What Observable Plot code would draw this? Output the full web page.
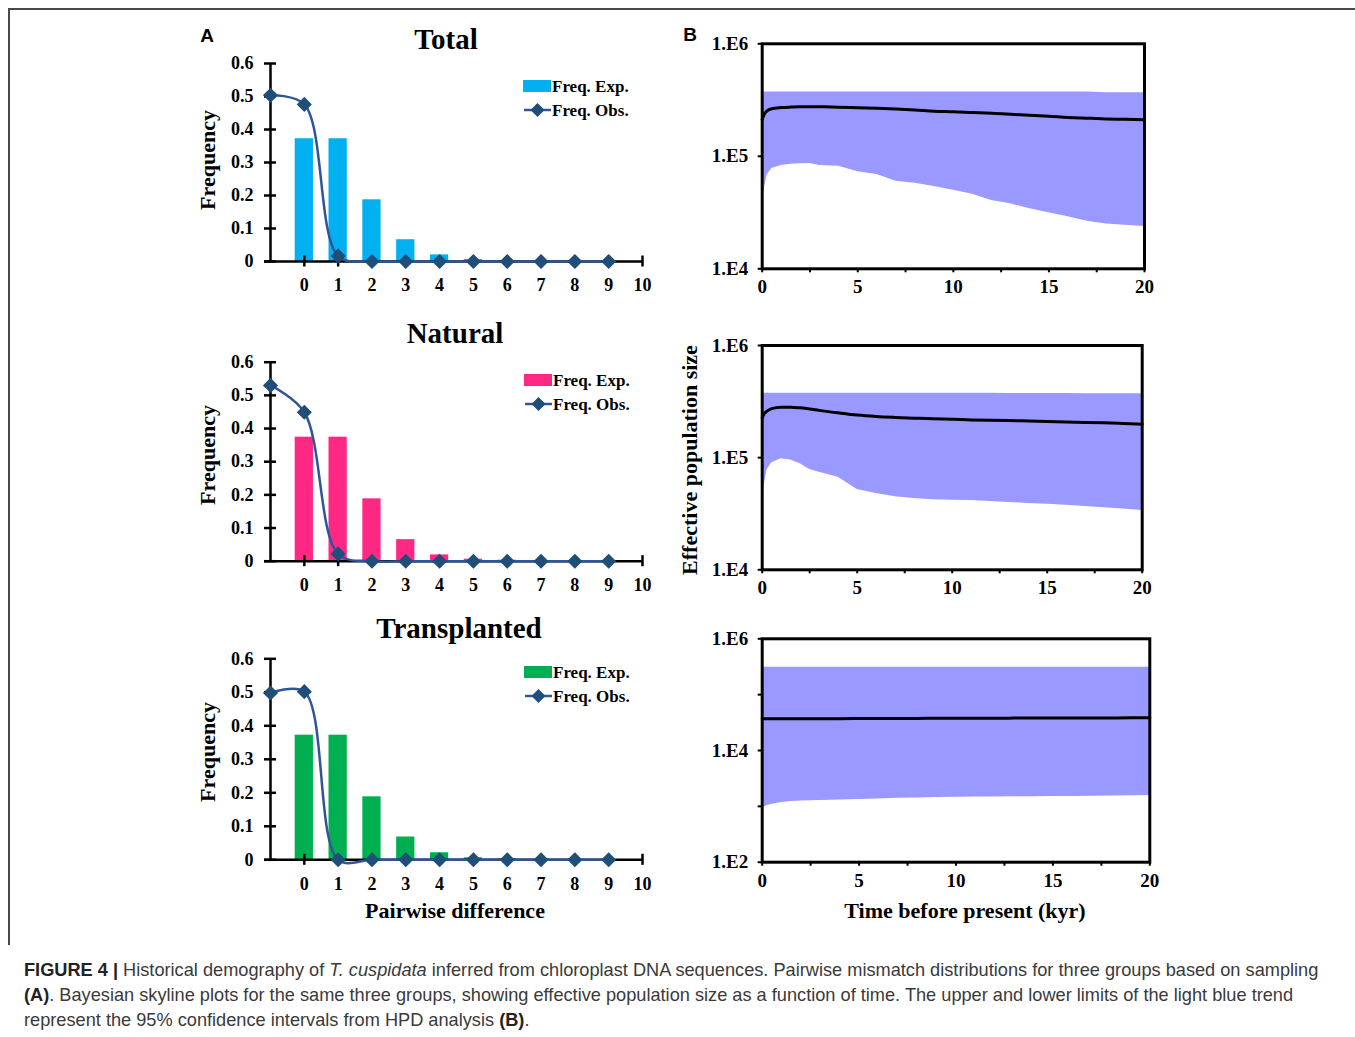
<!DOCTYPE html>
<html><head><meta charset="utf-8">
<script src="https://cdn.jsdelivr.net/npm/d3@7"></script>
<script src="https://cdn.jsdelivr.net/npm/@observablehq/plot@0.6"></script>
<style>
html,body{margin:0;padding:0;background:#fff;}
#fig{position:relative;width:1355px;height:1037px;overflow:hidden;background:#fff;}
.lbl{position:absolute;transform:translate(-50%,-50%);white-space:nowrap;font-family:"Liberation Serif",serif;font-weight:bold;color:#000;line-height:1;}
#border{position:absolute;left:8px;top:8px;width:1360px;height:935px;border-top:2px solid #4a4a4a;border-left:2px solid #4a4a4a;}
#cap{position:absolute;left:24px;top:958px;font-family:"Liberation Sans",Arial,sans-serif;font-size:18.2px;line-height:25px;color:#3a3a3a;white-space:nowrap;}
#cap b{color:#222;}
</style></head><body><div id="fig"><div id="border"></div></div>
<script>
// ---------- Panel A: pairwise mismatch distributions ----------
const groups = ["Total", "Natural", "Transplanted"];
const expCats = [0, 1, 2, 3, 4, 5, 6, 7, 8, 9];
const obsCats = [-1, 0, 1, 2, 3, 4, 5, 6, 7, 8, 9];
const xTicksA = [0, 1, 2, 3, 4, 5, 6, 7, 8, 9, 10];
const yTicksA = [0, 0.1, 0.2, 0.3, 0.4, 0.5, 0.6];
const expTotal = [0.372, 0.372, 0.187, 0.066, 0.020, 0.006, 0.003, 0.001, 0.001, 0.000];
const obsTotal = [0.504, 0.476, 0.017, 0, 0, 0, 0, 0, 0, 0, 0];
const expNatural = [0.374, 0.374, 0.188, 0.065, 0.019, 0.006, 0.003, 0.001, 0.001, 0.000];
const obsNatural = [0.530, 0.449, 0.022, 0, 0, 0, 0, 0, 0, 0, 0];
const expTransplanted = [0.372, 0.372, 0.188, 0.068, 0.021, 0.006, 0.003, 0.001, 0.001, 0.000];
const obsTransplanted = [0.498, 0.502, 0, 0, 0, 0, 0, 0, 0, 0, 0];
const barColors = ["#00b0f0", "#ff2885", "#00b050"];
const legendLabels = ["Freq. Exp.", "Freq. Obs."];

// ---------- Panel B: Bayesian skyline plots ----------
const timeKyr = [0, 0.1, 0.25, 0.5, 1, 1.5, 2, 2.5, 3, 4, 5, 6, 7, 8, 9, 10, 11, 12, 13, 14, 15, 16, 17, 18, 19, 20];
const hiTotal  = [372000,372000,372000,372000,372000,372000,372000,372000,372000,372000,372000,372000,372000,372000,372000,372000,372000,372000,372000,372000,372000,372000,372000,368000,367000,367000];
const medTotal = [212000,235000,253000,265000,271000,274000,276000,276000,275500,273500,270000,267000,263000,258000,252000,249000,245000,241000,236000,232000,227000,221000,218000,215000,213000,211000];
const loTotal  = [40000,50000,68000,78000,83000,85000,86000,86500,83000,81500,73000,69000,60000,57500,54000,49800,46000,40500,37800,34100,31500,29000,26500,25000,24400,23800];
const hiNatural  = [376000,376000,376000,376000,376000,376000,376000,376000,376000,376000,376000,376000,376000,376000,376000,375000,375000,375000,374000,374000,373000,373000,372000,372000,371000,371000];
const medNatural = [226000,245000,260000,273500,282000,282000,278000,272000,264000,251000,240000,233000,228500,225000,222000,220000,217000,215000,214000,212500,210500,207500,206000,204500,202000,199000];
const loNatural  = [40000,56000,77600,90000,97700,95500,88100,78500,74100,66800,52000,47900,44700,43200,42200,41800,41500,40600,39800,39100,38400,37700,36700,35700,34800,33800];
const hiTransplanted  = [311000,311000,311000,311000,311000,311000,311000,311000,311000,311000,311000,311000,311000,311000,311000,311000,311000,311000,311000,311000,311000,311000,311000,311000,311000,311000];
const medTransplanted = [36900,36900,36900,36950,37000,37000,37050,37100,37150,37200,37300,37400,37500,37600,37700,37800,37850,37900,38000,38050,38100,38200,38250,38350,38400,38500];
const loTransplanted  = [950,970,1020,1090,1175,1220,1245,1260,1272,1295,1322,1355,1390,1415,1440,1460,1468,1476,1483,1490,1496,1502,1512,1525,1545,1563];
const xTicksB = [0, 5, 10, 15, 20];
const xMinorB = [0, 2.5, 5, 7.5, 10, 12.5, 15, 17.5, 20];
const yTicksB12 = [1e4, 1e5, 1e6];
const yTicksB3 = [1e2, 1e4, 1e6];
const yMinorB3 = [1e2, 1e3, 1e4, 1e5, 1e6];
const bandColor = "#9999ff";

const fig = document.getElementById("fig");
function place(node, left, top) {
  node.style.position = "absolute";
  node.style.left = left + "px";
  node.style.top = top + "px";
  fig.appendChild(node);
  return node;
}
function label(text, cx, cy, size, opts = {}) {
  const d = document.createElement("div");
  d.className = "lbl";
  d.textContent = text;
  d.style.left = cx + "px";
  d.style.top = cy + "px";
  d.style.fontSize = size + "px";
  if (opts.rotate) d.style.transform = "translate(-50%,-50%) rotate(-90deg)";
  if (opts.font) d.style.fontFamily = opts.font;
  fig.appendChild(d);
}
function legend(left, top, color) {
  const ns = "http://www.w3.org/2000/svg";
  const s = document.createElementNS(ns, "svg");
  s.setAttribute("width", 130);
  s.setAttribute("height", 44);
  s.style.overflow = "visible";
  s.innerHTML = `
    <rect x="0" y="0" width="28" height="12" fill="${color}"/>
    <line x1="1" x2="28" y1="30" y2="30" stroke="#2f5597" stroke-width="2.5"/>
    <path d="M14.5,23 L21.5,30 L14.5,37 L7.5,30Z" fill="#1f4e79"/>
    <text x="29" y="6.5" dominant-baseline="central" font-family="Liberation Serif" font-weight="bold" font-size="17">${legendLabels[0]}</text>
    <text x="29" y="30.5" dominant-baseline="central" font-family="Liberation Serif" font-weight="bold" font-size="17">${legendLabels[1]}</text>`;
  place(s, left, top);
}

function mismatch(exp, obs, color, h, mt, mb) {
  const bars = expCats.map((x, i) => ({x, v: exp[i]}));
  const pts = obsCats.map((x, i) => ({x, v: obs[i]}));
  return Plot.plot({
    width: 470, height: h,
    marginLeft: 80, marginRight: 18, marginTop: mt, marginBottom: mb,
    x: {domain: [-1, 10], axis: null, label: null},
    y: {domain: [0, 0.6], axis: null, label: null},
    style: {fontFamily: "Liberation Serif", fontWeight: "bold", fontSize: "18px", color: "#000", background: "transparent", overflow: "visible"},
    marks: [
      Plot.rect(bars, {x1: d => d.x - 0.27, x2: d => d.x + 0.27, y1: 0, y2: "v", fill: color}),
      Plot.ruleX([-1], {y1: 0, y2: 0.6, stroke: "#000", strokeWidth: 2.5}),
      Plot.ruleY([0], {stroke: "#000", strokeWidth: 2.5, insetLeft: -6}),
      Plot.axisY({ticks: yTicksA, tickSize: 12, dx: 6, tickFormat: () => "", strokeWidth: 2.5, label: null}),
      Plot.axisY({ticks: yTicksA, tickSize: 0, tickPadding: 17, tickFormat: d => d === 0 ? "0" : d.toFixed(1), label: null}),
      Plot.axisX({ticks: xTicksA, tickSize: 11, dy: -5.5, tickFormat: () => "", strokeWidth: 2.5, label: null}),
      Plot.axisX({ticks: xTicksA, tickSize: 0, tickPadding: 17, tickFormat: d => String(d), label: null}),
      Plot.line(pts, {x: "x", y: "v", curve: "catmull-rom", stroke: "#2f5597", strokeWidth: 2.5}),
      Plot.dot(pts, {x: "x", y: "v", symbol: "diamond2", r: 6.8, fill: "#1f4e79", stroke: "none"})
    ]
  });
}

function skyline(lo, med, hi, domain, yTicks, yMinor, h, mr, mt, mb) {
  const rows = timeKyr.map((t, i) => ({t, lo: lo[i], med: med[i], hi: hi[i]}));
  const fmt = d => "1.E" + Math.round(Math.log10(d));
  return Plot.plot({
    width: 490, height: h,
    marginLeft: 91.7, marginRight: mr, marginTop: mt, marginBottom: mb,
    x: {domain: [0, 20], axis: null, label: null},
    y: {type: "log", domain, axis: null, label: null},
    style: {fontFamily: "Liberation Serif", fontWeight: "bold", fontSize: "19px", color: "#000", background: "transparent", overflow: "visible"},
    marks: [
      Plot.areaY(rows, {x: "t", y1: "lo", y2: "hi", fill: bandColor, curve: "linear"}),
      Plot.line(rows, {x: "t", y: "med", stroke: "#000", strokeWidth: 3, curve: "monotone-x"}),
      Plot.frame({stroke: "#000", strokeWidth: 3}),
      Plot.axisY({ticks: yMinor, tickSize: 4, tickFormat: () => "", strokeWidth: 2, label: null}),
      Plot.axisY({ticks: yTicks, tickSize: 0, tickPadding: 14, tickFormat: fmt, label: null}),
      Plot.axisX({ticks: xMinorB, tickSize: 4, tickFormat: () => "", strokeWidth: 2, label: null}),
      Plot.axisX({ticks: xTicksB, tickSize: 0, tickPadding: 11, tickFormat: d => String(d), label: null})
    ]
  });
}

// Panel A
place(mismatch(expTotal, obsTotal, barColors[0], 280, 43, 39), 190, 20);
place(mismatch(expNatural, obsNatural, barColors[1], 290, 51.7, 39.3), 190, 310);
place(mismatch(expTransplanted, obsTransplanted, barColors[2], 300, 53.3, 45.7), 190, 605);
legend(523, 80, barColors[0]);
legend(524, 374, barColors[1]);
legend(524, 666, barColors[2]);
label(groups[0], 446, 39, 29);
label(groups[1], 455, 333, 29);
label(groups[2], 459, 628, 29);
label("Frequency", 208, 160, 22, {rotate: true});
label("Frequency", 208, 455, 22, {rotate: true});
label("Frequency", 208, 752, 22, {rotate: true});
label("Pairwise difference", 455, 911, 22);
label("A", 207, 35, 19, {font: "Liberation Sans"});

// Panel B
place(skyline(loTotal, medTotal, hiTotal, [1e4, 1e6], yTicksB12, yTicksB12, 280, 16, 23.3, 31.7), 670, 20);
place(skyline(loNatural, medNatural, hiNatural, [1e4, 1e6], yTicksB12, yTicksB12, 270, 18.3, 15, 30.7), 670, 330);
place(skyline(loTransplanted, medTransplanted, hiTransplanted, [1e2, 1e6], yTicksB3, yMinorB3, 280, 10.7, 18.3, 38.3), 670, 620);
label("Effective population size", 690, 460, 22, {rotate: true});
label("Time before present (kyr)", 965, 911, 22);
label("B", 690, 34, 19, {font: "Liberation Sans"});

// Caption
const cap = document.createElement("div");
cap.id = "cap";
cap.innerHTML = '<b>FIGURE 4 |</b> Historical demography of <i>T. cuspidata</i> inferred from chloroplast DNA sequences. Pairwise mismatch distributions for three groups based on sampling<br><b>(A)</b>. Bayesian skyline plots for the same three groups, showing effective population size as a function of time. The upper and lower limits of the light blue trend<br>represent the 95% confidence intervals from HPD analysis <b>(B)</b>.';
fig.appendChild(cap);
</script></body></html>
